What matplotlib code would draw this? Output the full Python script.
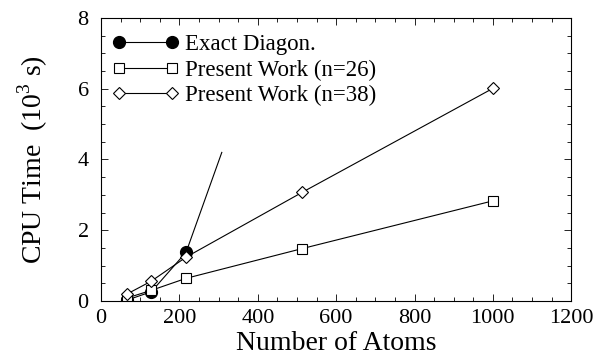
import numpy as np
import matplotlib
matplotlib.use("Agg")
import matplotlib.pyplot as plt
from matplotlib.ticker import MultipleLocator

plt.rcParams['font.family'] = ['Liberation Serif', 'DejaVu Serif']
plt.rcParams['mathtext.fontset'] = 'custom'
plt.rcParams['mathtext.rm'] = 'Liberation Serif'

# data
exact_x = [65, 128, 217]
exact_y = [0.02, 0.26, 1.38]
exact_ext_x = [217, 308]      # extrapolated line, no marker at the end
exact_ext_y = [1.38, 4.2]

n26_x = [65, 128, 217, 513, 1000]
n26_y = [0.08, 0.30, 0.64, 1.48, 2.83]

n38_x = [65, 128, 217, 513, 1000]
n38_y = [0.19, 0.56, 1.24, 3.07, 6.01]

fig = plt.figure(figsize=(5.95, 3.6), dpi=100)
ax = fig.add_axes([0.170, 0.164, 0.790, 0.786])

ax.plot(exact_ext_x, exact_ext_y, color='black', lw=0.8)
ax.plot(exact_x, exact_y, color='black', lw=0.8, marker='o', ms=8.5,
        mfc='black', mec='black', label='Exact Diagon.')
ax.plot(n26_x, n26_y, color='black', lw=0.8, marker='s', ms=7,
        mfc='white', mec='black', mew=0.8, label='Present Work (n=26)')
ax.plot(n38_x, n38_y, color='black', lw=0.8, marker='D', ms=6.5,
        mfc='white', mec='black', mew=0.8, label='Present Work (n=38)')

ax.set_xlim(0, 1200)
ax.set_ylim(0, 8)
ax.xaxis.set_major_locator(MultipleLocator(200))
ax.xaxis.set_minor_locator(MultipleLocator(50))
ax.yaxis.set_major_locator(MultipleLocator(2))
ax.yaxis.set_minor_locator(MultipleLocator(0.5))
ax.tick_params(which='both', direction='in', top=True, right=True, labelsize=16, width=0.6)
ax.tick_params(which='major', length=5)
ax.tick_params(which='minor', length=3)
ax.tick_params(axis='x', which='major', pad=6)
ax.tick_params(axis='y', which='major', pad=9)
for s in ax.spines.values():
    s.set_linewidth(0.8)

ax.set_xlabel('Number of Atoms', fontsize=20, labelpad=2)
ax.set_ylabel(r'CPU Time  (10$^3$ s)', fontsize=20, labelpad=20)

ax.legend(loc='upper left', bbox_to_anchor=(0, 0.982), frameon=False,
          numpoints=2, fontsize=16.5, handlelength=2.9, handletextpad=0.26,
          labelspacing=0.18, borderaxespad=0.2, borderpad=0.29)

fig.savefig('out.png', dpi=100)
